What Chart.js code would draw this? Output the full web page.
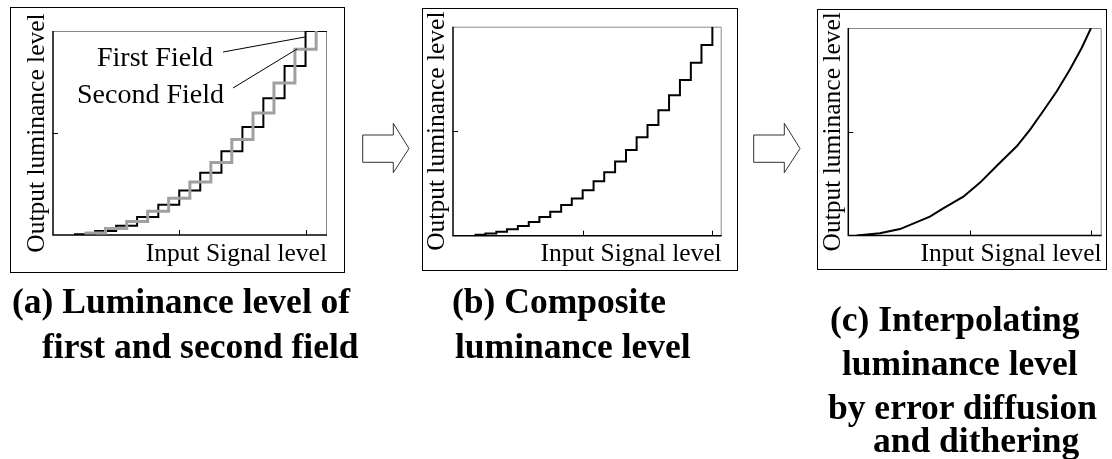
<!DOCTYPE html>
<html>
<head>
<meta charset="utf-8">
<script src="https://cdn.jsdelivr.net/npm/chart.js@4.4.0/dist/chart.umd.min.js"></script>
<style>
  html, body { margin: 0; padding: 0; background: #fff; }
  body { width: 1112px; height: 459px; position: relative; overflow: hidden; }
  canvas { position: absolute; }
  .frame { position: absolute; box-sizing: border-box; border: 1.5px solid #000; pointer-events: none; }
  svg.overlay { position: absolute; left: 0; top: 0; pointer-events: none; }
  .ttl { font-family: "Liberation Serif", "Times New Roman", serif; font-weight: bold; font-size: 35.5px; fill: #000; }
  .ann { font-family: "Liberation Serif", "Times New Roman", serif; font-size: 28px; fill: #000; }
</style>
</head>
<body>
<canvas id="ca" width="335" height="266" style="left:10px;top:7px;"></canvas>
<canvas id="cb" width="316" height="262" style="left:422px;top:8px;"></canvas>
<canvas id="cc" width="290" height="261" style="left:817px;top:9px;"></canvas>
<div class="frame" style="left:10px;top:7px;width:335px;height:266px;"></div>
<div class="frame" style="left:422px;top:8px;width:316px;height:263px;"></div>
<div class="frame" style="left:817px;top:9px;width:290px;height:261px;"></div>
<svg class="overlay" width="1112" height="459" viewBox="0 0 1112 459">
  <text class="ann" x="97" y="66">First Field</text>
  <text class="ann" x="77" y="103">Second Field</text>
  <line x1="223" y1="52" x2="305" y2="37" stroke="#000" stroke-width="1"/>
  <line x1="233" y1="88" x2="297" y2="49" stroke="#000" stroke-width="1"/>
  <polygon points="362.7,135 393.3,135 393.3,123.3 409,148.5 393.3,172.7 393.3,162.3 362.7,162.3" fill="#fff" stroke="#333" stroke-width="1"/>
  <polygon points="753.7,135 784.3,135 784.3,123.3 800,148.5 784.3,172.7 784.3,162.3 753.7,162.3" fill="#fff" stroke="#333" stroke-width="1"/>
  <text class="ttl" x="12" y="313">(a) Luminance level of</text>
  <text class="ttl" x="42" y="358">first and second field</text>
  <text class="ttl" x="452" y="313">(b) Composite</text>
  <text class="ttl" x="455" y="358">luminance level</text>
  <text class="ttl" x="830" y="331">(c) Interpolating</text>
  <text class="ttl" x="842" y="375">luminance level</text>
  <text class="ttl" x="828" y="419">by error diffusion</text>
  <text class="ttl" x="873" y="452">and dithering</text>
</svg>
<script>
// ---- data ----
const X_AXIS_LABEL = 'Input Signal level';
const Y_AXIS_LABEL = 'Output luminance level';
const X_TICKS = [0.5, 1.0];
const Y_TICKS = [0.5];

// (a) first field staircase (left edge of each step, level)
const FIRST_X = [0.083, 0.167, 0.25, 0.333, 0.417, 0.5, 0.583, 0.667, 0.75, 0.833, 0.917, 1.0, 1.085];
const FIRST_Y = [0.004, 0.02, 0.045, 0.088, 0.148, 0.218, 0.305, 0.41, 0.53, 0.67, 0.828, 1.0, 1.0];
// (a) second field staircase
const SECOND_X = [0.125, 0.208, 0.292, 0.375, 0.458, 0.542, 0.625, 0.708, 0.792, 0.875, 0.958, 1.042];
const SECOND_Y = [0.01, 0.032, 0.066, 0.116, 0.18, 0.26, 0.356, 0.468, 0.598, 0.745, 0.91, 1.0];
// (b) composite staircase
const COMP_X = [0.083, 0.125, 0.167, 0.208, 0.25, 0.292, 0.333, 0.375, 0.417, 0.458, 0.5, 0.542,
                0.583, 0.625, 0.667, 0.708, 0.75, 0.792, 0.833, 0.875, 0.917, 0.958, 1.0];
const COMP_Y = [0.004, 0.01, 0.019, 0.031, 0.047, 0.066, 0.089, 0.115, 0.147, 0.178, 0.218, 0.261,
                0.304, 0.355, 0.41, 0.471, 0.53, 0.6, 0.672, 0.745, 0.828, 0.913, 1.0];
// (c) interpolated curve
const INTERP_X = [0.035, 0.13, 0.213, 0.336, 0.391, 0.474, 0.543, 0.611, 0.694, 0.749, 0.803, 0.859, 0.913, 0.962, 1.0];
const INTERP_Y = [0, 0.011, 0.031, 0.091, 0.131, 0.187, 0.255, 0.335, 0.43, 0.51, 0.6, 0.695, 0.8, 0.905, 1.0];

function pts(xs, ys) { return xs.map((x, i) => ({ x: x, y: ys[i] })); }

const FONT_FAMILY = '"Liberation Serif", "Times New Roman", serif';
const FS = 25.5, LH = 25.5, MID = 0.3375 * FS;

const framePlugin = {
  id: 'frameDeco',
  beforeDatasetsDraw(chart) {
    const { ctx, chartArea: a, scales } = chart;
    ctx.save();
    ctx.strokeStyle = '#8a8a8a';
    ctx.lineWidth = 1;
    ctx.beginPath();
    ctx.moveTo(a.left, a.top + 0.5); ctx.lineTo(a.right - 0.5, a.top + 0.5); ctx.lineTo(a.right - 0.5, a.bottom);
    ctx.stroke();
    ctx.strokeStyle = '#000';
    ctx.lineWidth = 1.5;
    ctx.beginPath();
    ctx.moveTo(a.left, a.top); ctx.lineTo(a.left, a.bottom); ctx.lineTo(a.right, a.bottom);
    ctx.stroke();
    ctx.lineWidth = 1;
    ctx.beginPath();
    X_TICKS.forEach(v => {
      const px = Math.round(scales.x.getPixelForValue(v)) + 0.5;
      ctx.moveTo(px, a.bottom); ctx.lineTo(px, a.bottom - 5);
    });
    Y_TICKS.forEach(v => {
      const py = Math.round(scales.y.getPixelForValue(v)) + 0.5;
      ctx.moveTo(a.left, py); ctx.lineTo(a.left + 5, py);
    });
    ctx.stroke();
    ctx.restore();
  }
};

function makePanel(id, frame, area, yTitleCx, xBase, xMax, datasets) {
  const W = frame.r - frame.l, H = frame.b - frame.t;
  const al = area.l - frame.l, at = area.t - frame.t, ar = area.r - frame.l, ab = area.b - frame.t;
  const yCx = yTitleCx - frame.l;
  const yPadTop = Math.max(0, yCx - LH / 2);
  const yPadBottom = Math.max(0, al - LH - yPadTop);
  const xCy = (xBase - frame.t) - MID;
  const xPadBottom = Math.max(0, H - LH / 2 - xCy);
  const xPadTop = Math.max(0, (H - ab) - LH - xPadBottom);
  const titleFont = { family: FONT_FAMILY, size: FS, lineHeight: 1, weight: 'normal' };
  return new Chart(document.getElementById(id), {
    type: 'line',
    data: { datasets: datasets },
    options: {
      responsive: false,
      animation: false,
      events: [],
      layout: { padding: { left: 0, top: at, right: W - ar, bottom: 0 } },
      plugins: { legend: { display: false }, tooltip: { enabled: false } },
      elements: { point: { radius: 0 }, line: { tension: 0 } },
      scales: {
        x: {
          type: 'linear', min: 0, max: xMax,
          ticks: { display: false },
          grid: { display: false, drawTicks: false },
          border: { display: false },
          title: { display: true, text: X_AXIS_LABEL, align: 'end', color: '#000', font: titleFont,
                   padding: { top: xPadTop, bottom: xPadBottom } }
        },
        y: {
          type: 'linear', min: 0, max: 1,
          ticks: { display: false },
          grid: { display: false, drawTicks: false },
          border: { display: false },
          title: { display: true, text: Y_AXIS_LABEL, align: 'center', color: '#000', font: titleFont,
                   padding: { top: yPadTop, bottom: yPadBottom } }
        }
      }
    },
    plugins: [framePlugin]
  });
}

makePanel('ca', { l: 10, t: 7, r: 345, b: 273 }, { l: 53, t: 31, r: 327, b: 235 }, 37.5, 263, 1.085, [
  { label: 'Second Field', data: pts(SECOND_X, SECOND_Y), stepped: 'before', borderColor: '#a0a0a0', borderWidth: 3, order: 0, fill: false },
  { label: 'First Field', data: pts(FIRST_X, FIRST_Y), stepped: 'before', borderColor: '#000', borderWidth: 2, order: 1, fill: false }
]);
makePanel('cb', { l: 422, t: 8, r: 738, b: 270 }, { l: 453, t: 26.7, r: 721.7, b: 235.7 }, 437.6, 263, 1.036, [
  { label: 'Composite', data: pts(COMP_X, COMP_Y), stepped: 'before', borderColor: '#000', borderWidth: 2, fill: false }
]);
makePanel('cc', { l: 817, t: 9, r: 1107, b: 270 }, { l: 848.3, t: 28, r: 1101.7, b: 235.5 }, 833, 263, 1.044, [
  { label: 'Interpolated', data: pts(INTERP_X, INTERP_Y), borderColor: '#000', borderWidth: 2, fill: false }
]);
</script>
</body>
</html>
